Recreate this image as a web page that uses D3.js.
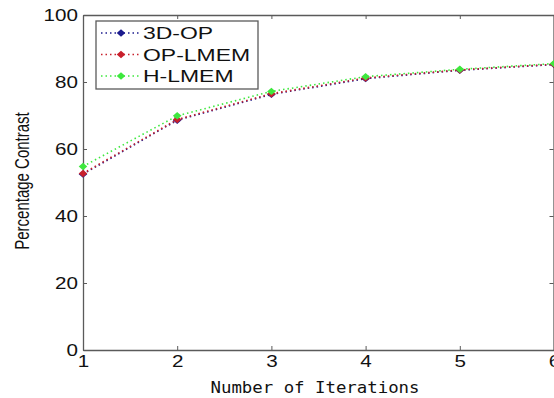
<!DOCTYPE html>
<html>
<head>
<meta charset="utf-8">
<script src="https://cdn.jsdelivr.net/npm/d3@7"></script>
<style>
    body { margin: 0; background: #fff; }
    svg { display: block; }
</style>
</head>
<body>
<svg id="chart" width="554" height="398"></svg>
<script>
// chart data
const iterations = [1, 2, 3, 4, 5, 6];
const op3d = [52.5, 68.6, 76.3, 81.0, 83.5, 85.2];
const opLmem = [52.7, 68.8, 76.5, 81.2, 83.6, 85.3];
const hLmem = [54.8, 69.9, 77.2, 81.6, 83.8, 85.5];
const seriesNames = ["3D-OP", "OP-LMEM", "H-LMEM"];
const seriesColors = ["#1c1c8e", "#c8202c", "#3ee83e"];
const yTicks = [0, 20, 40, 60, 80, 100];

const series = [op3d, opLmem, hLmem].map(function (values, i) {
    return {
        name: seriesNames[i],
        color: seriesColors[i],
        points: values.map(function (v, j) {
            return {x: iterations[j], y: v};
        })
    };
});

const svg = d3.select("#chart");
const axisColor = "#5a5a5a";

const x = d3.scaleLinear().domain([1, 6]).range([83, 554]);
const y = d3.scaleLinear().domain([0, 100]).range([350, 15]);

// axes, MATLAB style: ticks pointing inward, box all round
const axisB = svg.append("g")
    .attr("transform", "translate(0," + y(0) + ")")
    .call(d3.axisBottom(x).tickValues(iterations).tickFormat(d3.format("d"))
        .tickSizeInner(-4).tickSizeOuter(0).tickPadding(5));

const axisT = svg.append("g")
    .attr("transform", "translate(0," + y(100) + ")")
    .call(d3.axisTop(x).tickValues(iterations).tickFormat("")
        .tickSizeInner(-4).tickSizeOuter(0));

const axisL = svg.append("g")
    .attr("transform", "translate(" + x(1) + ",0)")
    .call(d3.axisLeft(y).tickValues(yTicks)
        .tickSizeInner(-4).tickSizeOuter(0).tickPadding(4));

const axisR = svg.append("g")
    .attr("transform", "translate(" + (x(6) - 0.5) + ",0)")
    .call(d3.axisRight(y).tickValues(yTicks).tickFormat("")
        .tickSizeInner(-4).tickSizeOuter(0));

[axisB, axisT, axisL, axisR].forEach(function (g) {
    g.select(".domain").attr("stroke", axisColor).attr("stroke-width", 1.3);
    g.selectAll(".tick line").attr("stroke", axisColor);
    g.selectAll("text")
        .attr("fill", "#111")
        .style("font-family", "'Liberation Sans', Arial, sans-serif")
        .style("font-size", "16.5px");
});

axisB.selectAll("text").attr("transform", "scale(1.25,1)");
axisL.selectAll("text").attr("transform", "scale(1.25,1)").attr("x", -4);

// data lines
const line = d3.line()
    .x(function (d) { return x(d.x); })
    .y(function (d) { return y(d.y); });

const plot = svg.append("g");

plot.selectAll("path.series")
    .data(series)
    .enter()
    .append("path")
    .attr("class", "series")
    .attr("fill", "none")
    .attr("stroke", function (d) { return d.color; })
    .attr("stroke-width", 1.6)
    .attr("stroke-dasharray", "1.5,3")
    .attr("d", function (d) { return line(d.points); });

const marker = d3.symbol().type(d3.symbolDiamond).size(22);

plot.selectAll("g.markers")
    .data(series)
    .enter()
    .append("g")
    .attr("class", "markers")
    .attr("fill", function (d) { return d.color; })
    .selectAll("path")
    .data(function (d) { return d.points; })
    .enter()
    .append("path")
    .attr("d", marker)
    .attr("transform", function (d) {
        return "translate(" + x(d.x) + "," + y(d.y) + ") scale(1.7,0.85)";
    });

// legend
const legend = svg.append("g").attr("transform", "translate(96,21)");

legend.append("rect")
    .attr("width", 162)
    .attr("height", 68)
    .attr("fill", "#fff")
    .attr("stroke", axisColor)
    .attr("stroke-width", 1.3);

const entry = legend.selectAll("g.entry")
    .data(series)
    .enter()
    .append("g")
    .attr("class", "entry")
    .attr("transform", function (d, i) {
        return "translate(0," + (12 + i * 21.5) + ")";
    });

entry.append("line")
    .attr("x1", 5)
    .attr("x2", 44)
    .attr("stroke", function (d) { return d.color; })
    .attr("stroke-width", 1.6)
    .attr("stroke-dasharray", "1.5,3");

entry.append("path")
    .attr("d", marker)
    .attr("fill", function (d) { return d.color; })
    .attr("transform", "translate(25,0) scale(1.7,0.85)");

entry.append("text")
    .attr("transform", "translate(47,0) scale(1.35,1)")
    .attr("dy", "0.36em")
    .attr("fill", "#111")
    .style("font-family", "'Liberation Sans', Arial, sans-serif")
    .style("font-size", "17px")
    .text(function (d) { return d.name; });

// axis titles
svg.append("text")
    .attr("x", 315)
    .attr("y", 393)
    .attr("text-anchor", "middle")
    .attr("textLength", 209)
    .attr("lengthAdjust", "spacingAndGlyphs")
    .attr("fill", "#111")
    .style("font-family", "'DejaVu Sans Mono', 'Liberation Mono', monospace")
    .style("font-size", "16px")
    .text("Number of Iterations");

svg.append("text")
    .attr("transform", "translate(29,181) scale(1.3,1) rotate(-90)")
    .attr("text-anchor", "middle")
    .attr("fill", "#111")
    .style("font-family", "'Liberation Sans Narrow', 'Liberation Sans', Arial, sans-serif")
    .style("font-size", "15px")
    .text("Percentage Contrast");
</script>
</body>
</html>
